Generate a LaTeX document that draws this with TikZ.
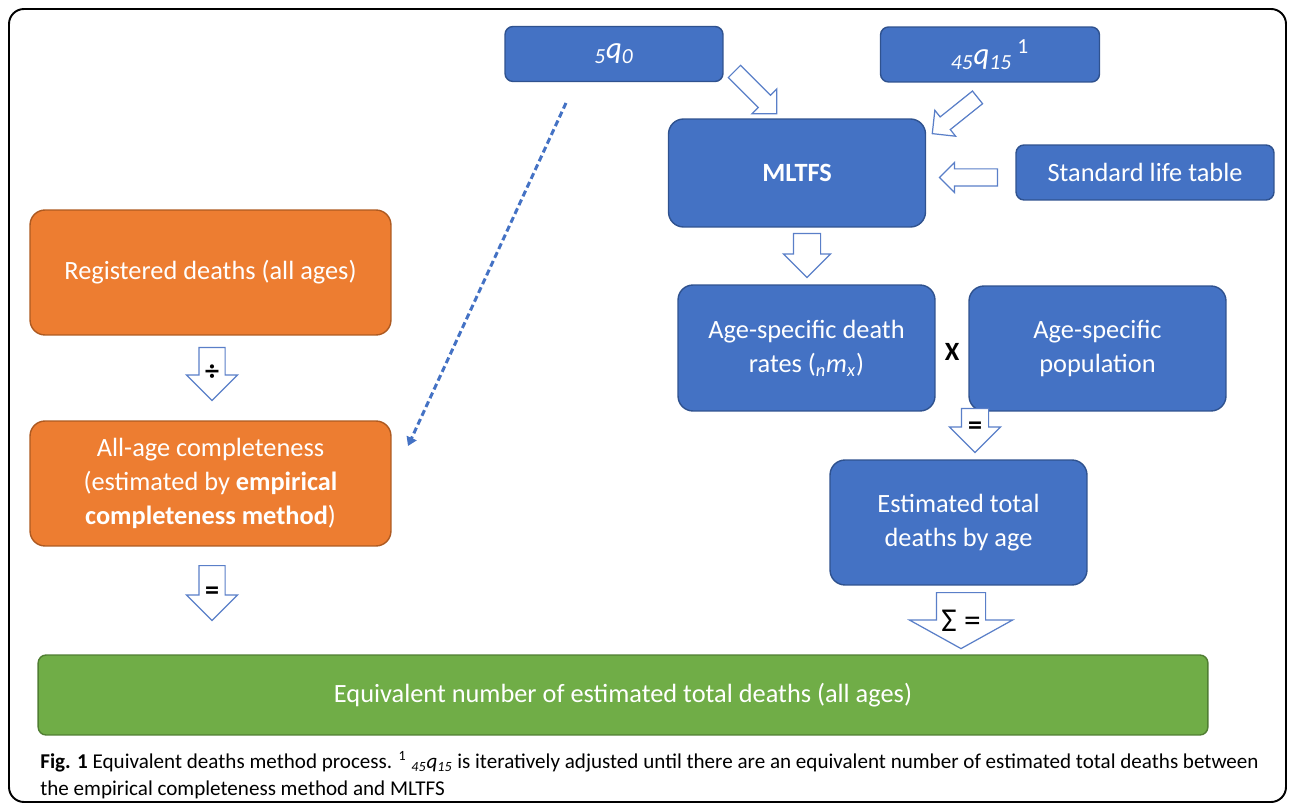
\documentclass[tikz,border=0pt]{standalone}
\usepackage{fontspec}
\setmainfont{Carlito}
\usetikzlibrary{shapes.arrows,arrows.meta,calc}
\definecolor{boxblue}{HTML}{4472C4}
\definecolor{edgeblue}{HTML}{2F528F}
\definecolor{boxorange}{HTML}{ED7D31}
\definecolor{edgeorange}{HTML}{AE5A21}
\definecolor{boxgreen}{HTML}{70AD47}
\definecolor{edgegreen}{HTML}{507E32}
\definecolor{hollowblue}{HTML}{5A7FC8}
\newcommand{\lifeq}[2]{\textit{\textsubscript{#1}q\textsubscript{#2}}}
\tikzset{
x=0.02cm, y=-0.02cm,
box/.style={rectangle, rounded corners=0.3cm, text=white, align=center,
  font=\fontsize{15}{19.5}\selectfont, line width=0.8pt, inner sep=2pt},
bluebox/.style={box, fill=boxblue, draw=edgeblue},
smallbox/.style={bluebox, rounded corners=0.16cm, minimum height=1.1cm},
orangebox/.style={box, fill=boxorange, draw=edgeorange},
greenbox/.style={box, fill=boxgreen, draw=edgegreen},
blockarrow/.style={single arrow, draw=hollowblue, fill=white, line width=0.7pt},
downarrow/.style={blockarrow, shape border rotate=270, anchor=tail, inner ysep=0pt},
sidearrow/.style={blockarrow, anchor=tail, inner xsep=0pt},
arrowtext/.style={inner sep=0pt, font=\fontsize{16}{16}\selectfont\bfseries},
dasharrow/.style={draw=boxblue, line width=1.7pt, dash pattern=on 3.5pt off 2pt,
  -{Triangle[length=5pt,width=6pt]}},
}

\begin{document}
\begin{tikzpicture}
    \useasboundingbox (0,0) rectangle (1295,807);
    \draw[line width=1.1pt, rounded corners=0.3cm] (9,9) rectangle (1286,802);

    % input boxes
    \node[smallbox, minimum width=4.36cm, font=\fontsize{17.5}{20}\selectfont] (q0) at (614,54) {\lifeq{5}{0}};
    \node[smallbox, minimum width=4.38cm, font=\fontsize{17.5}{20}\selectfont] (q45) at (990,54.5) {\lifeq{45}{15}\,\textsuperscript{1}};
    \node[bluebox, minimum width=5.14cm, minimum height=2.16cm, font=\fontsize{15}{19.5}\selectfont\bfseries] (mltfs) at (797,173) {MLTFS};
    \node[smallbox, minimum width=5.16cm] (slt) at (1145,172.5) {Standard life table};

    % empirical completeness side
    \node[orangebox, minimum width=7.22cm, minimum height=2.5cm] (reg) at (210.5,272.5) {Registered deaths (all ages)};
    \node[orangebox, minimum width=7.22cm, minimum height=2.5cm] (comp) at (210.5,483.5)
        {All-age completeness\\(estimated by \textbf{empirical}\\\textbf{completeness method})};

    % MLTFS side
    \node[bluebox, minimum width=5.14cm, minimum height=2.52cm] (asdr) at (806.5,348)
        {Age-specific death\\rates (\textsubscript{\textit{n}}\textit{m}\textsubscript{\textit{x}})};
    \node[bluebox, minimum width=5.14cm, minimum height=2.5cm] (aspop) at (1097.5,348.5) {Age-specific\\population};
    \node[font=\fontsize{15}{15}\selectfont\bfseries] (times) at (952,352) {X};
    \node[bluebox, minimum width=5.14cm, minimum height=2.5cm] (est) at (958.5,522.5) {Estimated total\\deaths by age};

    \node[greenbox, minimum width=23.4cm, minimum height=1.6cm, rounded corners=0.16cm] (equiv) at (623,695)
        {Equivalent number of estimated total deaths (all ages)};

    % hollow arrows
    \node[downarrow, inner xsep=0.25cm, minimum width=1cm, minimum height=1.06cm,
        single arrow head extend=0.25cm] (adiv) at (212,347) {};
    \node[downarrow, inner xsep=0.25cm, minimum width=1cm, minimum height=1.1cm,
        single arrow head extend=0.25cm] (aeqa) at (212,565) {};
    \node[downarrow, inner xsep=0.26cm, minimum width=0.92cm, minimum height=0.88cm,
        single arrow head extend=0.2cm] (amltfs) at (807,233) {};
    \node[downarrow, inner xsep=0.26cm, minimum width=1cm, minimum height=0.88cm,
        single arrow head extend=0.24cm] (aeqb) at (975,408) {};
    \node[downarrow, inner xsep=0.48cm, minimum width=2.04cm, minimum height=1.12cm,
        single arrow head extend=0.54cm, single arrow tip angle=122] (asum) at (961,592) {};
    \node[sidearrow, rotate=-45, inner ysep=0.16cm, minimum width=0.68cm, minimum height=1.2cm,
        single arrow head extend=0.18cm] (aq0) at (734,71) {};
    \node[sidearrow, rotate=218.7, inner ysep=0.15cm, minimum width=0.64cm, minimum height=1.16cm,
        single arrow head extend=0.17cm] (aq45) at (978,97) {};
    \node[sidearrow, shape border rotate=180, inner ysep=0.16cm, minimum width=0.58cm, minimum height=1.16cm,
        single arrow head extend=0.13cm] (aslt) at (998,177.5) {};

    % operators on the arrows
    \node[arrowtext] (tdiv) at ($(adiv.tail)!0.47!(adiv.tip)$) {÷};
    \node[arrowtext] (teqa) at ($(aeqa.tail)!0.5!(aeqa.tip)$) {=};
    \node[arrowtext] (teqb) at ($(aeqb.tail)!0.45!(aeqb.tip)$) {=};
    \node[arrowtext, font=\fontsize{19}{19}\selectfont] (tsum) at ($(asum.tail)!0.5!(asum.tip)$) {Σ =};

    % dashed link from 5q0
    \coordinate (dstart) at (566,103);
    \coordinate (dend) at (408,446);
    \draw[dasharrow] (dstart) -- (dend);

    % caption
    \node[anchor=base west, inner sep=0pt, font=\fontsize{12}{14}\selectfont] (cap1) at (40,768)
        {\textbf{Fig. 1} Equivalent deaths method process. \textsuperscript{1} \lifeq{45}{15} is iteratively adjusted until there are an equivalent number of estimated total deaths between};
    \node[anchor=base west, inner sep=0pt, font=\fontsize{12}{14}\selectfont] (cap2) at (40,795)
        {the empirical completeness method and MLTFS};
\end{tikzpicture}
\end{document}
